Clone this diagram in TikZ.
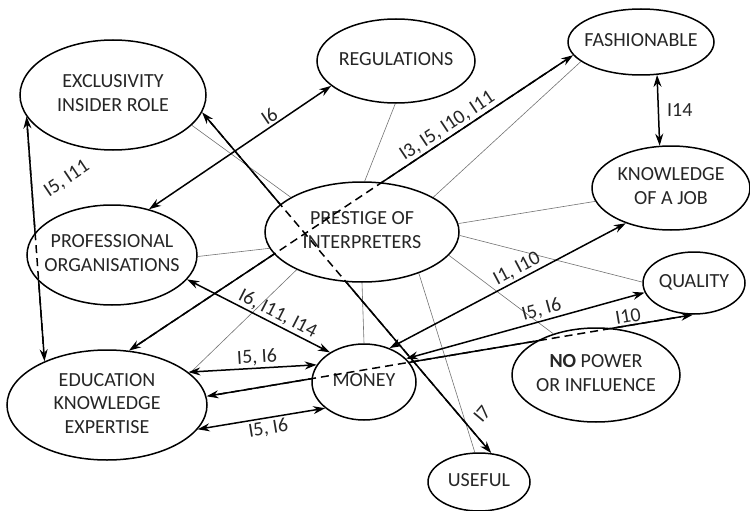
\documentclass[tikz,border=0pt]{standalone}
\usepackage{fontspec}
\setmainfont{Carlito}
\usetikzlibrary{shapes.geometric,arrows.meta,backgrounds}
\newcommand{\ovaltxt}[1]{\makebox[0pt]{\begin{tabular}{@{}c@{}}#1\end{tabular}}}

\begin{document}
\begin{tikzpicture}[x=1pt,y=-1pt,
    font=\fontsize{20}{23.5}\selectfont,
    >={Stealth[length=12pt,width=8pt]},
    oval/.style={ellipse,draw,line width=1.5pt,fill=white,inner sep=0pt,text=black!85},
    lbl/.style={inner sep=2pt,text=black!85},
    link/.style={<->,line width=1.5pt},
    tie/.style={black!55,line width=0.6pt},
    behind/.style={line width=1.5pt,dash pattern=on 8pt off 5pt,shorten <=12pt,shorten >=12pt}]
    \useasboundingbox (0,0) rectangle (750,511);

    \node[oval,minimum width=186pt,minimum height=110pt] (excl)   at (113,95)  {\ovaltxt{EXCLUSIVITY\\INSIDER ROLE}};
    \node[oval,minimum width=158pt,minimum height=84pt]  (reg)    at (396,61)  {\ovaltxt{REGULATIONS}};
    \node[oval,minimum width=146pt,minimum height=66pt]  (fash)   at (641,42)  {\ovaltxt{FASHIONABLE}};
    \node[oval,minimum width=158pt,minimum height=84pt]  (job)    at (671,188) {\ovaltxt{KNOWLEDGE\\OF A JOB}};
    \node[oval,minimum width=194pt,minimum height=100pt] (pres)   at (362,232) {\ovaltxt{PRESTIGE OF\\INTERPRETERS}};
    \node[oval,minimum width=170pt,minimum height=100pt] (prof)   at (112,255) {\ovaltxt{PROFESSIONAL\\ORGANISATIONS}};
    \node[oval,minimum width=200pt,minimum height=110pt] (edu)    at (107,405) {\ovaltxt{EDUCATION\\KNOWLEDGE\\EXPERTISE}};
    \node[oval,minimum width=104pt,minimum height=76pt]  (money)  at (364,382) {\ovaltxt{MONEY}};
    \node[oval,minimum width=102pt,minimum height=62pt]  (qual)   at (694,283) {\ovaltxt{QUALITY}};
    \node[oval,minimum width=168pt,minimum height=94pt]  (nopow)  at (596,375) {\ovaltxt{\textbf{NO} POWER\\OR INFLUENCE}};
    \node[oval,minimum width=102pt,minimum height=58pt]  (useful) at (479,482) {\ovaltxt{USEFUL}};

    \begin{pgfonlayer}{background}
    % thin ties from the centre
    \draw[tie] (pres.154) -- (excl.-21);
    \draw[tie] (pres.87)  -- (reg.269);
    \draw[tie] (pres.26)  -- (fash.198);
    \draw[tie] (pres.5)   -- (job.190);
    \draw[tie] (pres.-2)  -- (qual.179);
    \draw[tie] (pres.-15) -- (nopow.136);
    \draw[tie] (pres.-36) -- (useful.98);
    \draw[tie] (pres.-90) -- (money.90);
    \draw[tie] (pres.210) -- (edu.21);
    \draw[tie] (pres.190) -- (prof.-1);

    % links with interview codes
    \draw[link] (excl.194) -- (edu.145);
    \draw[link] (prof.51)  -- node[lbl,pos=0.69,sloped,above] (c6)  {I6} (reg.201);
    \draw[link] (edu.68)   -- node[lbl,pos=0.73,sloped,above] (c3)  {I3, I5, I10, I11} (fash.191);
    \draw[link] (prof.-18) -- node[lbl,pos=0.6,sloped,above]  (c14) {I6, I11, I14} (money.139);
    \draw[link] (edu.22)   -- node[lbl,pos=0.54,sloped,above] (c56a) {I5, I6} (money.160);
    \draw[link] (edu.-15)  -- node[lbl,pos=0.54,sloped,below] (c56b) {I5, I6} (money.214);
    \draw[link] (edu.5)    -- node[lbl,pos=0.87,sloped,above] (c10) {I10} (qual.268);
    \draw[link] (money.29) -- node[lbl,pos=0.58,sloped,above] (c56c) {I5, I6} (qual.191);
    \draw[link] (money.53) -- node[lbl,pos=0.56,sloped,above] (c110) {I1, I10} (job.218);
    \draw[link] (excl.-11) -- (useful.67);
    \draw[link] (fash.-64) -- node[lbl,right=6pt] (c14b) {I14} (job.105);
    \node[lbl,rotate=34] (c511) at (67,179)  {I5, I11};
    \node[lbl,rotate=50] (c7)   at (482,414) {I7};
    \end{pgfonlayer}

    % crossings shown dashed through the ovals
    \draw[behind] (excl.194) -- (edu.145);
    \draw[behind] (edu.68)   -- (fash.191);
    \draw[behind] (excl.-11) -- (useful.67);
    \draw[behind] (edu.5)    -- (qual.268);
\end{tikzpicture}
\end{document}
